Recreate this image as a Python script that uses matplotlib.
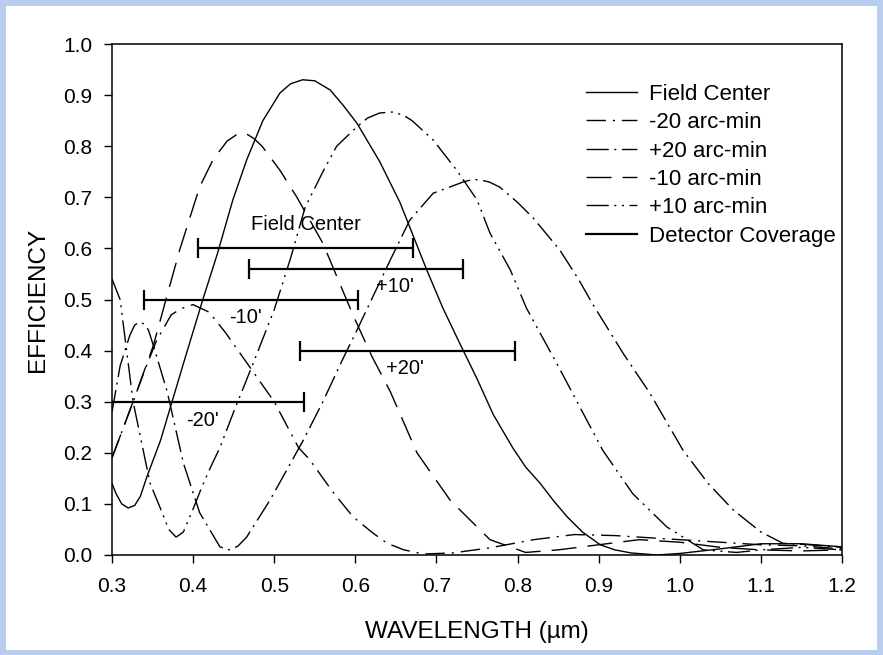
import matplotlib
matplotlib.use("Agg")
import matplotlib.pyplot as plt
from matplotlib.lines import Line2D
from matplotlib.patches import Rectangle

plt.rcParams["font.family"] = ["Liberation Sans", "DejaVu Sans"]

# efficiency curves (wavelength in um)
center_wl = [0.30, 0.305, 0.312, 0.32, 0.328, 0.335, 0.343, 0.36, 0.374, 0.39, 0.412, 0.43,
             0.449, 0.466, 0.486, 0.507, 0.52, 0.535, 0.55, 0.569, 0.585, 0.602, 0.63,
             0.655, 0.688, 0.708, 0.73, 0.75, 0.77, 0.794, 0.81, 0.828, 0.845, 0.861,
             0.88, 0.902, 0.92, 0.94, 0.972, 1.0, 1.05, 1.1, 1.15, 1.2]
center_eff = [0.14, 0.12, 0.10, 0.092, 0.097, 0.115, 0.153, 0.225, 0.30, 0.385, 0.50, 0.59,
              0.695, 0.773, 0.85, 0.904, 0.922, 0.93, 0.928, 0.91, 0.88, 0.845, 0.77,
              0.69, 0.558, 0.483, 0.41, 0.345, 0.275, 0.21, 0.172, 0.14, 0.105, 0.075,
              0.045, 0.02, 0.01, 0.004, 0.0, 0.003, 0.012, 0.022, 0.022, 0.016]

m20_wl = [0.30, 0.326, 0.34, 0.355, 0.373, 0.385, 0.40, 0.42, 0.44, 0.46, 0.48, 0.50, 0.53,
          0.544, 0.572, 0.597, 0.62, 0.639, 0.66, 0.684, 0.72, 0.766, 0.82, 0.87, 0.92,
          1.0, 1.05, 1.1, 1.15, 1.2]
m20_eff = [0.19, 0.30, 0.36, 0.42, 0.47, 0.482, 0.49, 0.475, 0.435, 0.39, 0.345, 0.30, 0.21,
           0.186, 0.124, 0.075, 0.045, 0.023, 0.01, 0.002, 0.004, 0.014, 0.03, 0.04, 0.038,
           0.03, 0.025, 0.02, 0.018, 0.012]

p20_wl = [0.30, 0.31, 0.322, 0.328, 0.334, 0.34, 0.345, 0.351, 0.368, 0.388, 0.408, 0.433,
          0.445, 0.455, 0.466, 0.495, 0.536, 0.56, 0.585, 0.602, 0.643, 0.667, 0.696,
          0.733, 0.745, 0.754, 0.765, 0.778, 0.80, 0.819, 0.852, 0.875, 0.893, 0.93, 0.963,
          1.004, 1.035, 1.066, 1.1, 1.127, 1.16, 1.2]
p20_eff = [0.28, 0.37, 0.43, 0.45, 0.456, 0.452, 0.44, 0.41, 0.32, 0.18, 0.083, 0.016,
           0.01, 0.017, 0.035, 0.108, 0.225, 0.30, 0.385, 0.44, 0.577, 0.655, 0.708,
           0.73, 0.735, 0.734, 0.73, 0.72, 0.69, 0.66, 0.597, 0.54, 0.49, 0.395, 0.317,
           0.205, 0.14, 0.088, 0.045, 0.023, 0.02, 0.015]

m10_wl = [0.30, 0.326, 0.351, 0.37, 0.384, 0.408, 0.425, 0.442, 0.453, 0.464, 0.475, 0.485,
          0.507, 0.528, 0.56, 0.597, 0.62, 0.643, 0.676, 0.717, 0.766, 0.81, 0.85, 0.9,
          0.95, 1.0, 1.05, 1.1, 1.15, 1.2]
m10_eff = [0.19, 0.30, 0.41, 0.52, 0.60, 0.72, 0.775, 0.81, 0.822, 0.826, 0.815, 0.80,
           0.753, 0.70, 0.61, 0.47, 0.39, 0.32, 0.20, 0.107, 0.03, 0.005, 0.01, 0.02,
           0.03, 0.025, 0.015, 0.01, 0.008, 0.01]

p10_wl = [0.30, 0.31, 0.326, 0.347, 0.36, 0.37, 0.379, 0.388, 0.40, 0.41, 0.421, 0.433,
          0.45, 0.474, 0.50, 0.52, 0.538, 0.56, 0.577, 0.602, 0.615, 0.63, 0.647, 0.66,
          0.67, 0.696, 0.725, 0.75, 0.766, 0.791, 0.811, 0.85, 0.88, 0.905, 0.942, 0.984,
          1.029, 1.07, 1.1, 1.15, 1.2]
p10_eff = [0.54, 0.50, 0.30, 0.14, 0.09, 0.05, 0.035, 0.045, 0.09, 0.13, 0.17, 0.21,
           0.28, 0.375, 0.48, 0.58, 0.68, 0.75, 0.80, 0.838, 0.855, 0.865, 0.867, 0.86,
           0.85, 0.812, 0.753, 0.695, 0.63, 0.558, 0.483, 0.37, 0.28, 0.205, 0.12, 0.055,
           0.01, 0.005, 0.01, 0.015, 0.01]

# detector coverage bars
cov_labels = ["Field Center", "+10'", "-10'", "+20'", "-20'"]
cov_lo = [0.406, 0.469, 0.339, 0.532, 0.272]
cov_hi = [0.671, 0.733, 0.603, 0.797, 0.537]
cov_eff = [0.60, 0.56, 0.50, 0.40, 0.30]

fig = plt.figure(figsize=(8.83, 6.55), dpi=100, facecolor="#b9cdf0")
fig.patches.append(Rectangle((6 / 883, 5 / 655), 871 / 883, 644 / 655,
                             transform=fig.transFigure, facecolor="white",
                             edgecolor="none", zorder=-10))
ax = fig.add_axes([112 / 883, 100 / 655, 730 / 883, 511 / 655])
ax.set_facecolor("none")

lw = 1.0
ax.plot(center_wl, center_eff, color="black", lw=lw, label="Field Center")
ax.plot(m20_wl, m20_eff, color="black", lw=lw, dashes=(14, 5, 1.5, 5), label="-20 arc-min")
ax.plot(p20_wl, p20_eff, color="black", lw=lw, dashes=(16, 4, 1.5, 4), label="+20 arc-min")
ax.plot(m10_wl, m10_eff, color="black", lw=lw, dashes=(18, 8), label="-10 arc-min")
ax.plot(p10_wl, p10_eff, color="black", lw=lw, dashes=(16, 4, 1.5, 4, 1.5, 4),
        label="+10 arc-min")

mid = [(a + b) / 2 for a, b in zip(cov_lo, cov_hi)]
half = [(b - a) / 2 for a, b in zip(cov_lo, cov_hi)]
ax.errorbar(mid, cov_eff, xerr=half, fmt="none", ecolor="black", elinewidth=1.6,
            capsize=7, capthick=1.6)

# label offsets relative to each bar centre
label_dx = [0.0, 0.048, -0.007, -0.003, 0.007]
label_dy = [0.046, -0.034, -0.036, -0.036, -0.036]
for name, x, y, dx, dy in zip(cov_labels, mid, cov_eff, label_dx, label_dy):
    ax.text(x + dx, y + dy, name, ha="center", va="center", fontsize=14.5)

ax.set_xlim(0.3, 1.2)
ax.set_ylim(0, 1.0)
ax.set_xticks([0.3 + 0.1 * i for i in range(10)])
ax.set_yticks([0.1 * i for i in range(11)])
ax.xaxis.set_major_formatter(matplotlib.ticker.FormatStrFormatter("%.1f"))
ax.yaxis.set_major_formatter(matplotlib.ticker.FormatStrFormatter("%.1f"))
ax.tick_params(direction="out", length=6, width=1.0, labelsize=15)
ax.tick_params(axis="x", pad=10)
ax.tick_params(axis="y", pad=8)
for s in ax.spines.values():
    s.set_linewidth(1.1)
ax.set_xlabel("WAVELENGTH (\u00b5m)", fontsize=17.5, labelpad=18)
ax.set_ylabel("EFFICIENCY", fontsize=17.5, labelpad=10)

handles, labels = ax.get_legend_handles_labels()
handles.append(Line2D([], [], color="black", lw=1.6))
labels.append("Detector Coverage")
ax.legend(handles, labels, loc="upper left", bbox_to_anchor=(0.649, 0.922),
          frameon=False, fontsize=16, handlelength=2.3, handletextpad=0.55,
          labelspacing=0.33, borderpad=0, borderaxespad=0)

fig.savefig("out.png", dpi=100, facecolor=fig.get_facecolor())
